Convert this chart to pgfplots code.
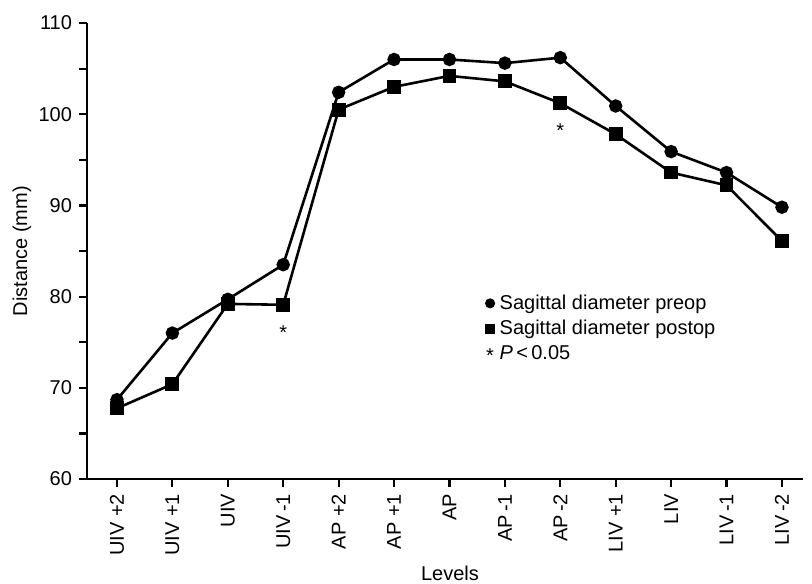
\documentclass[border=0pt]{standalone}
\usepackage{fontspec}
\setmainfont{Liberation Sans}
\usepackage{pgfplots}
\pgfplotsset{compat=1.18}
\pgfplotsset{legmark/.style={legend image code/.code={\draw[##1] plot coordinates {(0pt,0pt)};}},
  legstar/.style={legend image code/.code={\node[inner sep=0pt, anchor=base] at (0pt,-4pt) {*};}}}
\begin{document}
\begin{tikzpicture}
\begin{axis}[
  scale only axis, width=358pt, height=228pt,
  xmin=-0.541, xmax=12.38, ymin=60, ymax=110,
  axis lines*=left,
  axis line style={line width=1.2pt},
  xtick={0,...,12},
  xticklabels={UIV +2, UIV +1, UIV, UIV\,-1, AP +2, AP +1, AP, AP\,-1, AP\,-2, LIV +1, LIV, LIV\,-1, LIV\,-2},
  x tick label style={rotate=90, anchor=east},
  ytick={60,70,...,110}, minor ytick={65,75,...,105},
  tick align=outside, major tick length=4pt, minor tick length=4pt,
  xtick style={line width=1.1pt, black},
  ytick style={line width=1.1pt, black},
  tick label style={font=\fontsize{10}{12}\selectfont, /pgf/number format/assume math mode=true},
  every axis y label/.style={at={(axis description cs:-0.091,0.5)}, rotate=90, anchor=center, font=\fontsize{10}{12}\selectfont},
  every axis x label/.style={at={(axis description cs:0.507,-0.208)}, anchor=center, font=\fontsize{10}{12}\selectfont},
  ylabel={Distance (mm)}, xlabel={Levels},
  legend style={at={(rel axis cs:0.556,0.414)}, anchor=north west, draw=none, fill=none,
    font=\fontsize{10}{12}\selectfont, row sep=0pt, inner sep=0pt,
    nodes={inner xsep=2.5pt}},
  legend cell align=left,
  clip=false,
]
\addplot[line width=1.3pt, mark=*, mark size=2.7pt, forget plot] coordinates {
 (0,68.7) (1,76.0) (2,79.7) (3,83.5) (4,102.4) (5,106.0) (6,106.0) (7,105.6) (8,106.2) (9,100.9) (10,95.9) (11,93.6) (12,89.8)};
\addplot[line width=1.3pt, mark=square*, mark size=2.8pt, forget plot] coordinates {
 (0,67.75) (1,70.4) (2,79.2) (3,79.1) (4,100.5) (5,103.0) (6,104.2) (7,103.6) (8,101.2) (9,97.8) (10,93.6) (11,92.2) (12,86.1)};
\node[anchor=base, font=\fontsize{10}{12}\selectfont] at (axis cs:3,75.35) {*};
\node[anchor=base, font=\fontsize{10}{12}\selectfont] at (axis cs:8,97.4) {*};
\addlegendimage{mark=*, mark size=2.3pt, black, legmark}
\addlegendentry{Sagittal diameter preop}
\addlegendimage{mark=square*, mark size=2.3pt, black, legmark}
\addlegendentry{Sagittal diameter postop}
\addlegendimage{legstar}
\addlegendentry{\textit{P}\,<\,0.05}
\end{axis}
\pgfresetboundingbox
\path (current axis.north east) ++(4.5pt,11.5pt) coordinate (ne);
\useasboundingbox (current axis.south west) ++(-43.5pt,-52pt) rectangle (ne);
\end{tikzpicture}
\end{document}
